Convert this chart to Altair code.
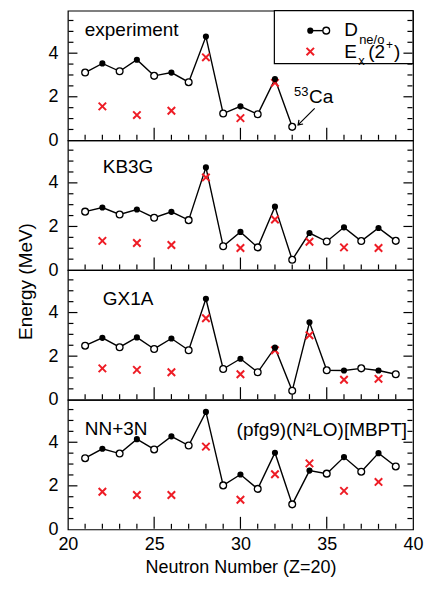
import altair as alt
import pandas as pd

# ---------------- data ----------------
N_all = list(range(21, 40))
N_exp = list(range(21, 34))
N_ex_all = [22, 24, 26, 28, 30, 32, 34, 36, 38]
N_ex_exp = [22, 24, 26, 28, 30, 32]

exp_D = [3.11, 3.53, 3.17, 3.70, 2.96, 3.11, 2.67, 4.76, 1.23, 1.56, 1.20, 2.81, 0.62]
exp_Ex = [1.56, 1.16, 1.36, 3.81, 1.02, 2.64]

kb3g_D = [2.68, 2.87, 2.55, 2.78, 2.40, 2.67, 2.29, 4.71, 1.09, 1.75, 1.04, 2.91,
          0.47, 1.70, 1.31, 1.96, 1.33, 1.93, 1.34]
kb3g_Ex = [1.34, 1.24, 1.15, 4.25, 1.01, 2.32, 1.30, 1.04, 1.01]

gx1a_D = [2.48, 2.84, 2.41, 2.86, 2.33, 2.81, 2.27, 4.63, 1.41, 1.88, 1.26, 2.39,
          0.41, 3.55, 1.35, 1.34, 1.44, 1.34, 1.17]
gx1a_Ex = [1.44, 1.37, 1.26, 3.74, 1.17, 2.27, 2.96, 0.92, 0.96]

nn3n_D = [3.27, 3.70, 3.48, 4.14, 3.67, 4.27, 3.85, 5.39, 2.02, 2.52, 1.86, 3.52,
          1.15, 2.70, 2.56, 3.32, 2.65, 3.50, 2.89]
nn3n_Ex = [1.73, 1.58, 1.58, 3.80, 1.36, 2.53, 3.03, 1.77, 2.18]

x_minor_ticks = [21, 22, 23, 24, 26, 27, 28, 29, 31, 32, 33, 34, 36, 37, 38, 39]
x_major_ticks = [25, 30, 35]
x_labels = [20, 25, 30, 35, 40]
y_minor_ticks = [0.5, 1, 1.5, 2.5, 3, 3.5, 4.5, 5, 5.5]
y_major_ticks = [2, 4]
y_labels = [0, 2, 4]
x_min, x_max = 20, 40

# 53Ca annotation (data coordinates)
arrow_tail = (34.3, 1.47)
arrow_head = (33.34, 0.71)
ca_label_pos = (33.97, 2.0)
ca_mass_pos = (33.1, 2.24)

# ---------------- style ----------------
W, H = 346, 130
YMAX = 5.95
FONT = "Liberation Sans"
RED = "#ee1c25"
XPATH = "M-1,-1L1,1M-1,1L1,-1"
ARROW = "M-0.7,-1L0,0L0.7,-1"

PX_X = W / (x_max - x_min)   # pixels per neutron number
PX_Y = H / YMAX              # pixels per MeV
INSET = 0.6                  # start ticks just inside the frame

xscale = alt.Scale(domain=[x_min, x_max], nice=False, zero=False)
yscale = alt.Scale(domain=[0, YMAX], nice=False, zero=False)


def y_label_axis(title=None):
    kw = dict(orient="left", values=y_labels, ticks=False, domain=False, grid=False,
              labelPadding=10, labelFont=FONT, labelFontSize=18, labelColor="black")
    if title:
        kw.update(title=title, titleY=141, titleFont=FONT, titleFontSize=19,
                  titleFontWeight="normal", titleColor="black", titlePadding=12)
    else:
        kw.update(title=None)
    return alt.Axis(**kw)


x_label_axis = alt.Axis(orient="bottom", values=x_labels, ticks=False, domain=False,
                        grid=False, labelFlush=False, labelPadding=6, labelFont=FONT,
                        labelFontSize=18, labelColor="black",
                        title="Neutron Number (Z=20)", titleFont=FONT, titleFontSize=18,
                        titleFontWeight="normal", titleColor="black", titlePadding=5)


def txt(text, x, y, size=19, align="left"):
    return alt.Chart(pd.DataFrame({"t": [text]})).mark_text(
        text=text, font=FONT, fontSize=size, align=align, baseline="middle",
        color="black").encode(x=alt.value(x), y=alt.value(y))


def seg(n1, e1, n2, e2, tag="a", width=1.2):
    df = pd.DataFrame({"n1": [n1], "e1": [e1], "n2": [n2], "e2": [e2], "tag": [tag]})
    return alt.Chart(df).mark_rule(color="black", strokeWidth=width, opacity=1).encode(
        x=alt.X("n1:Q", scale=xscale, axis=None),
        y=alt.Y("e1:Q", scale=yscale, axis=None),
        x2="n2:Q", y2="e2:Q")


def tick_layers(tag):
    out = []
    e0 = INSET / PX_Y
    for vals, px in ((x_major_ticks, 12), (x_minor_ticks, 5)):
        for v in vals:
            out.append(seg(v, e0, v, e0 + px / PX_Y, tag))
    n0 = INSET / PX_X
    for vals, px in ((y_major_ticks, 9), (y_minor_ticks, 5)):
        for v in vals:
            out.append(seg(x_min + n0, v, x_min + n0 + px / PX_X, v, tag))
            out.append(seg(x_max - n0, v, x_max - n0 - px / PX_X, v, tag))
    return out


def panel(tag, Ns, D, ExN, Ex, labels, x_labels_on=False, y_title=None, extra=()):
    df = pd.DataFrame({"N": Ns, "D": D})
    dfx = pd.DataFrame({"N": ExN, "E": Ex})

    def X(axis=None):
        return alt.X("N:Q", scale=xscale, axis=axis)

    def Y(field, axis=None):
        return alt.Y(field, scale=yscale, axis=axis)

    line = alt.Chart(df).mark_line(color="black", strokeWidth=1.4).encode(
        x=X(x_label_axis if x_labels_on else None), y=Y("D:Q", y_label_axis(y_title)))
    crosses = alt.Chart(dfx).mark_point(shape=XPATH, color=RED, strokeWidth=2,
                                        size=56, opacity=1).encode(x=X(), y=Y("E:Q"))
    openpts = alt.Chart(df).transform_filter("datum.N % 2 === 1").mark_point(
        shape="circle", filled=True, fill="white", stroke="black", strokeWidth=1.3,
        size=46, opacity=1).encode(x=X(), y=Y("D:Q"))
    fillpts = alt.Chart(df).transform_filter("datum.N % 2 === 0").mark_point(
        shape="circle", filled=True, color="black", size=38, opacity=1).encode(
        x=X(), y=Y("D:Q"))
    layers = [line, crosses, openpts, fillpts] + [txt(*l) for l in labels] + \
        list(extra) + tick_layers(tag)
    return alt.layer(*layers).resolve_axis(x="independent", y="independent").properties(
        width=W, height=H)


def blank():
    return alt.Chart(pd.DataFrame({"a": [0]}))


# legend for the experiment panel (pixel positions inside the panel)
LX = W - 139
legend_layers = [
    blank().mark_rect(fill="white", stroke="black", strokeWidth=1.2).encode(
        x=alt.value(LX), x2=alt.value(W), y=alt.value(0), y2=alt.value(53)),
    blank().mark_rule(color="black", strokeWidth=1.4).encode(
        x=alt.value(LX + 36), x2=alt.value(LX + 52), y=alt.value(20)),
    blank().mark_point(shape="circle", filled=True, color="black", size=38,
                       opacity=1).encode(x=alt.value(LX + 36), y=alt.value(20)),
    blank().mark_point(shape="circle", filled=True, fill="white", stroke="black",
                       strokeWidth=1.3, size=46, opacity=1).encode(
        x=alt.value(LX + 52), y=alt.value(20)),
    blank().mark_point(shape=XPATH, color=RED, strokeWidth=2, size=56,
                       opacity=1).encode(x=alt.value(LX + 36), y=alt.value(41)),
    txt("D", LX + 70, 19, 19),
    txt("ne/o", LX + 85, 29, 13),
    txt("E", LX + 70, 41, 19),
    txt("x", LX + 84, 50, 13),
    txt("(2", LX + 94, 41, 19),
    txt("+", LX + 112, 34, 12),
    txt(")", LX + 120, 41, 19),
]

ann_layers = [
    seg(arrow_tail[0], arrow_tail[1], arrow_head[0], arrow_head[1], "arrow"),
    alt.Chart(pd.DataFrame({"n": [arrow_head[0]], "e": [arrow_head[1]]})).mark_point(
        shape=ARROW, color="black", strokeWidth=1.2, size=70, angle=45,
        opacity=1).encode(
        x=alt.X("n:Q", scale=xscale, axis=None),
        y=alt.Y("e:Q", scale=yscale, axis=None)),
    alt.Chart(pd.DataFrame({"n": [ca_label_pos[0]], "e": [ca_label_pos[1]]})).mark_text(
        text="Ca", font=FONT, fontSize=19, align="left", baseline="middle",
        color="black").encode(
        x=alt.X("n:Q", scale=xscale, axis=None), y=alt.Y("e:Q", scale=yscale, axis=None)),
    alt.Chart(pd.DataFrame({"n": [ca_mass_pos[0]], "e": [ca_mass_pos[1]]})).mark_text(
        text="53", font=FONT, fontSize=13, align="left", baseline="middle",
        color="black").encode(
        x=alt.X("n:Q", scale=xscale, axis=None), y=alt.Y("e:Q", scale=yscale, axis=None)),
]

p1 = panel("p1", N_exp, exp_D, N_ex_exp, exp_Ex, [("experiment", 17, 19)],
           extra=ann_layers + legend_layers)
p2 = panel("p2", N_all, kb3g_D, N_ex_all, kb3g_Ex, [("KB3G", 35, 27)],
           y_title="Energy (MeV)")
p3 = panel("p3", N_all, gx1a_D, N_ex_all, gx1a_Ex, [("GX1A", 35, 29)])
p4 = panel("p4", N_all, nn3n_D, N_ex_all, nn3n_Ex,
           [("NN+3N", 17, 29), ("(pfg9)(N²LO)[MBPT]", W - 6, 30, 19, "right")],
           x_labels_on=True)

chart = alt.vconcat(p1, p2, p3, p4, spacing=0, bounds="flush").configure_view(
    stroke="black", strokeWidth=1.2).properties(
    padding={"left": 8, "top": 0, "right": 0, "bottom": 0})

chart.save("out.html", embed_options={"renderer": "svg", "actions": False})
